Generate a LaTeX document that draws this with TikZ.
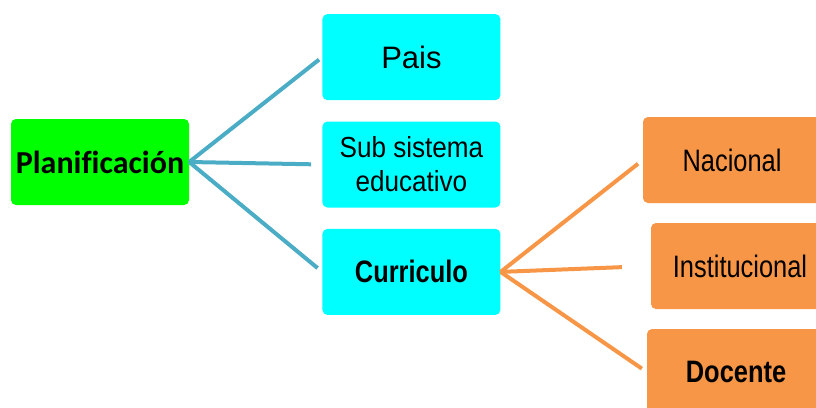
\documentclass[tikz,border=0pt]{standalone}
\usepackage{fontspec}
\setmainfont{Liberation Sans}
\newfontfamily\narrowfont[FakeStretch=0.82]{Liberation Sans}
\newfontfamily\subfont[FakeStretch=0.9]{Liberation Sans}
\newfontfamily\calfont[Ligatures=NoCommon]{Carlito}
\usetikzlibrary{positioning}

\definecolor{boxgreen}{HTML}{00FF00}
\definecolor{boxcyan}{HTML}{00FFFF}
\definecolor{boxorange}{HTML}{F79646}
\definecolor{linkblue}{HTML}{4BACC6}

\begin{document}
\begin{tikzpicture}[x=1pt, y=-1pt, node distance=21pt]

% Styles
        \tikzstyle{box}=[rectangle, rounded corners=5pt, minimum height=86pt, minimum width=178pt, inner sep=0pt, align=center]
        \tikzstyle{root}=[box, fill=boxgreen, font=\calfont\bfseries\fontsize{32}{36}\selectfont]
        \tikzstyle{level}=[box, fill=boxcyan, font=\subfont\fontsize{29}{34}\selectfont]
        \tikzstyle{leaf}=[box, fill=boxorange, font=\narrowfont\fontsize{31}{34}\selectfont]
        \tikzstyle{bluelink}=[draw=linkblue, line width=4pt]
        \tikzstyle{orangelink}=[draw=boxorange, line width=4pt]

        \clip (0,0) rectangle (816,407);

% Nodes
% Root
        \node[root] (plan) at (100,162) {Planificación};

% Second level
        \node[level, right=133pt of plan, yshift=-2.5pt] (sub) {Sub sistema\\educativo};
        \node[level, above=of sub, font=\fontsize{31}{34}\selectfont] (pais) {Pais};
        \node[level, below=of sub, font=\narrowfont\bfseries\fontsize{31}{34}\selectfont] (curr) {Curriculo};

% Third level
        \node[leaf] (nac) at (732,160) {Nacional};
        \node[leaf] (inst) at (740,266) {Institucional};
        \node[leaf, font=\narrowfont\bfseries\fontsize{31}{34}\selectfont] (doc) at (736,372) {Docente};

% Connections
        \draw[bluelink, shorten >=4pt] (plan.east) -- (pais.west);
        \draw[bluelink, shorten >=11pt] (plan.east) -- (sub.west);
        \draw[bluelink, shorten >=6pt] (plan.east) -- (curr.west);

        \draw[orangelink, shorten >=6pt] (curr.east) -- (nac.west);
        \draw[orangelink, shorten >=29pt] (curr.east) -- (inst.west);
        \draw[orangelink, shorten >=6pt] (curr.east) -- (doc.west);

    \end{tikzpicture}
\end{document}
